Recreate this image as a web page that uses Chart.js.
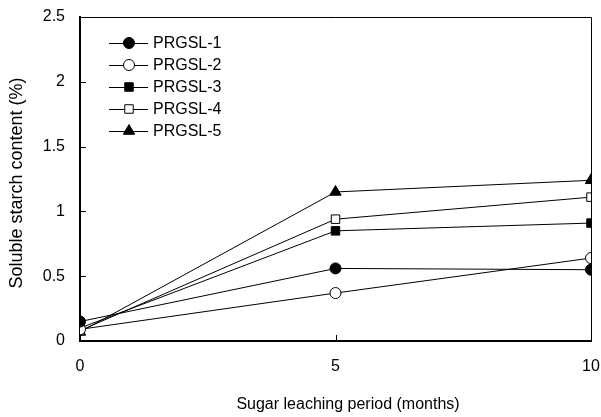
<!DOCTYPE html>
<html>
<head>
<meta charset="utf-8">
<script src="https://cdn.jsdelivr.net/npm/chart.js@4/dist/chart.umd.min.js"></script>
<style>
html,body{margin:0;padding:0;background:#fff;}
#wrap{width:601px;height:417px;}
</style>
</head>
<body>
<div id="wrap"><canvas id="c" width="601" height="417"></canvas></div>
<script>
const months = [0, 5, 10];
const seriesNames = ['PRGSL-1', 'PRGSL-2', 'PRGSL-3', 'PRGSL-4', 'PRGSL-5'];
const prgsl1 = [0.15, 0.56, 0.55];
const prgsl2 = [0.09, 0.37, 0.64];
const prgsl3 = [0.10, 0.85, 0.91];
const prgsl4 = [0.08, 0.94, 1.11];
const prgsl5 = [0.07, 1.15, 1.24];
const xTicks = [0, 5, 10];
const yTicks = [0, 0.5, 1, 1.5, 2, 2.5];
const xTitle = 'Sugar leaching period (months)';
const yTitle = 'Soluble starch content (%)';

const FONT = "'Liberation Sans', Arial, sans-serif";
const styles = [
  {pointStyle: 'circle', fill: '#000', r: 5.5},
  {pointStyle: 'circle', fill: '#fff', r: 5.5},
  {pointStyle: 'rect', fill: '#000', r: 6},
  {pointStyle: 'rect', fill: '#fff', r: 6},
  {pointStyle: 'triangle', fill: '#000', r: 6.5}
];
const allValues = [prgsl1, prgsl2, prgsl3, prgsl4, prgsl5];
const datasets = allValues.map((vals, i) => ({
  label: seriesNames[i],
  data: months.map((m, j) => ({x: m, y: vals[j]})),
  borderColor: '#000',
  borderWidth: 1,
  pointStyle: styles[i].pointStyle,
  pointRadius: styles[i].r,
  pointHoverRadius: styles[i].r,
  pointBackgroundColor: styles[i].fill,
  pointBorderColor: '#000',
  pointBorderWidth: 1,
  fill: false,
  tension: 0
}));

const framePlugin = {
  id: 'frame',
  afterDraw(chart) {
    const {ctx, chartArea: a, scales} = chart;
    ctx.save();
    ctx.strokeStyle = '#000';
    ctx.lineWidth = 1;
    ctx.beginPath();
    ctx.moveTo(a.left, a.top + 0.5);
    ctx.lineTo(a.right + 0.5, a.top + 0.5);
    ctx.lineTo(a.right + 0.5, a.bottom);
    ctx.stroke();
    // inward ticks
    ctx.beginPath();
    yTicks.forEach(v => {
      const y = Math.round(scales.y.getPixelForValue(v)) + 0.5;
      ctx.moveTo(a.left, y);
      ctx.lineTo(a.left + 6, y);
    });
    xTicks.forEach(v => {
      const x = Math.round(scales.x.getPixelForValue(v)) + 0.5;
      ctx.moveTo(x, a.bottom);
      ctx.lineTo(x, a.bottom - 6);
    });
    ctx.stroke();
    // axis titles
    ctx.fillStyle = '#000';
    ctx.textAlign = 'center';
    ctx.textBaseline = 'middle';
    ctx.font = '16px ' + FONT;
    ctx.fillText(xTitle, 348, 405);
    ctx.save();
    ctx.translate(17, 183);
    ctx.rotate(-Math.PI / 2);
    ctx.font = '18px ' + FONT;
    ctx.fillText(yTitle, 0, 0);
    ctx.restore();
    // legend
    const rows = [43, 65, 87, 109, 131];
    ctx.font = '16px ' + FONT;
    ctx.textBaseline = 'middle';
    ctx.textAlign = 'left';
    chart.data.datasets.forEach((ds, i) => {
      const y = rows[i];
      ctx.strokeStyle = '#000';
      ctx.lineWidth = 1;
      ctx.beginPath();
      ctx.moveTo(109, y + 0.5);
      ctx.lineTo(148, y + 0.5);
      ctx.stroke();
      ctx.fillStyle = ds.pointBackgroundColor;
      ctx.strokeStyle = '#000';
      Chart.helpers.drawPoint(ctx, {pointStyle: ds.pointStyle, radius: ds.pointRadius, rotation: 0, borderWidth: 1}, 129, y);
      ctx.fillStyle = '#000';
      ctx.fillText(ds.label, 153, y + 1);
    });
    ctx.restore();
  }
};

new Chart(document.getElementById('c'), {
  type: 'line',
  data: {datasets},
  options: {
    responsive: false,
    animation: false,
    events: [],
    layout: {padding: {top: 17, right: 10, left: 0, bottom: 0}},
    plugins: {legend: {display: false}, tooltip: {enabled: false}},
    scales: {
      x: {
        type: 'linear',
        min: 0, max: 10,
        afterFit: s => { s.height = 76; s.paddingLeft = 0; s.paddingRight = 0; },
        afterBuildTicks: s => { s.ticks = xTicks.map(v => ({value: v})); },
        grid: {display: false, drawTicks: false},
        border: {display: true, color: '#000', width: 2},
        ticks: {color: '#000', font: {family: FONT, size: 16}, padding: 16, maxRotation: 0, callback: v => String(v)},
        title: {display: false}
      },
      y: {
        type: 'linear',
        min: 0, max: 2.5,
        afterFit: s => { s.width = 80; s.paddingTop = 0; s.paddingBottom = 0; },
        afterBuildTicks: s => { s.ticks = yTicks.map(v => ({value: v})); },
        grid: {display: false, drawTicks: false},
        border: {display: true, color: '#000', width: 2},
        ticks: {color: '#000', font: {family: FONT, size: 16}, padding: 15, callback: v => String(v)},
        title: {display: false}
      }
    }
  },
  plugins: [framePlugin]
});
</script>
</body>
</html>
